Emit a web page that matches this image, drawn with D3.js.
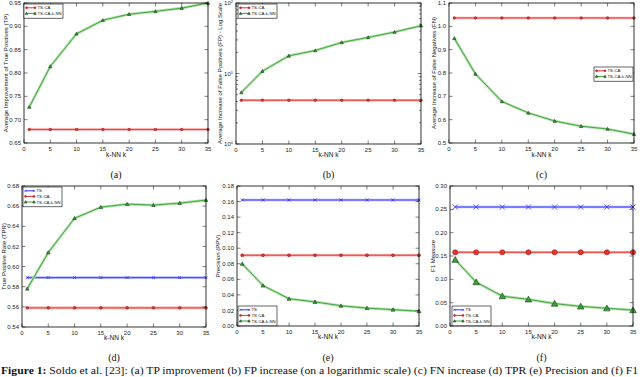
<!DOCTYPE html>
<html>
<head>
<meta charset="utf-8">
<script src="https://cdn.jsdelivr.net/npm/d3@7"></script>
<style>
  body { margin: 0; background: #fff; }
  svg { display: block; font-family: "Liberation Sans", Arial, sans-serif; }
  .cap { font-family: "Liberation Serif", "DejaVu Serif", serif; }
</style>
</head>
<body>
<div class="container"></div>
<script>
// k values used on every x axis
var kValues = [1, 5, 10, 15, 20, 25, 30, 35];
var xTicks = [0, 5, 10, 15, 20, 25, 30, 35];

// (a) TP improvement
var tpTsCa = [0.679, 0.679, 0.679, 0.679, 0.679, 0.679, 0.679, 0.679];
var tpKnn = [0.727, 0.814, 0.884, 0.913, 0.926, 0.932, 0.939, 0.950];
var tpTicks = [0.65, 0.70, 0.75, 0.80, 0.85, 0.90, 0.95];

// (b) FP increase, log scale
var fpTsCa = [4.18, 4.18, 4.18, 4.18, 4.18, 4.18, 4.18, 4.18];
var fpKnn = [5.37, 10.8, 17.8, 21.2, 27.6, 32.5, 38.7, 47.6];
var fpTicks = [1, 10, 100];

// (c) FN increase
var fnTsCa = [1.036, 1.036, 1.036, 1.036, 1.036, 1.036, 1.036, 1.036];
var fnKnn = [0.949, 0.796, 0.678, 0.629, 0.594, 0.572, 0.560, 0.538];
var fnTicks = [0.5, 0.6, 0.7, 0.8, 0.9, 1.0, 1.1];

// (d) TPR
var tprTs = [0.589, 0.589, 0.589, 0.589, 0.589, 0.589, 0.589, 0.589];
var tprTsCa = [0.559, 0.559, 0.559, 0.559, 0.559, 0.559, 0.559, 0.559];
var tprKnn = [0.578, 0.614, 0.648, 0.659, 0.662, 0.661, 0.663, 0.666];
var tprTicks = [0.54, 0.56, 0.58, 0.60, 0.62, 0.64, 0.66, 0.68];

// (e) Precision
var ppvTs = [0.162, 0.162, 0.162, 0.162, 0.162, 0.162, 0.162, 0.162];
var ppvTsCa = [0.091, 0.091, 0.091, 0.091, 0.091, 0.091, 0.091, 0.091];
var ppvKnn = [0.080, 0.052, 0.035, 0.031, 0.026, 0.023, 0.021, 0.019];
var ppvTicks = [0.00, 0.02, 0.04, 0.06, 0.08, 0.10, 0.12, 0.14, 0.16, 0.18];

// (f) F1
var f1Ts = [0.255, 0.255, 0.255, 0.255, 0.255, 0.255, 0.255, 0.255];
var f1TsCa = [0.158, 0.158, 0.158, 0.158, 0.158, 0.158, 0.158, 0.158];
var f1Knn = [0.142, 0.094, 0.064, 0.057, 0.048, 0.042, 0.038, 0.034];
var f1Ticks = [0.00, 0.05, 0.10, 0.15, 0.20, 0.25, 0.30];

var svgWidth = 640;
var svgHeight = 377;

var svg = d3.select(".container")
    .append("svg")
    .attr("width", svgWidth)
    .attr("height", svgHeight);

var styles = {
    "TS": { color: "#3333ff", halo: "#b4b8ff", marker: "x" },
    "TS-CA": { color: "#e8322f", halo: "#f8a8a8", marker: "o" },
    "TS-CA-k-NN": { color: "#38a038", halo: "#b0e0a8", marker: "^" }
};

var panels = [
    { box: [24, 3, 208, 143], domain: [0.65, 0.95], ticks: tpTicks, fmt: ".2f",
      ylabel: "Average Improvement of True Positives (TP)", ylabelX: 6,
      series: [["TS-CA", tpTsCa], ["TS-CA-k-NN", tpKnn]],
      legend: [24, 4], ms: 1.3, cap: "(a)", xlabelY: 157, capY: 178 },
    { box: [236, 3, 421, 144], domain: [1, 100], ticks: fpTicks, log: true,
      ylabel: "Average Increase of False Positives (FP) - Log Scale", ylabelX: 220,
      series: [["TS-CA", fpTsCa], ["TS-CA-k-NN", fpKnn]],
      legend: [238, 4], ms: 1.3, cap: "(b)", xlabelY: 157, capY: 178 },
    { box: [449, 3, 634, 143], domain: [0.5, 1.1], ticks: fnTicks, fmt: ".1f",
      ylabel: "Average Increase of False Negatives (FN)", ylabelX: 434,
      series: [["TS-CA", fnTsCa], ["TS-CA-k-NN", fnKnn]],
      legend: [594, 67], ms: 1.3, cap: "(c)", xlabelY: 157, capY: 178 },
    { box: [22, 186, 206, 327], domain: [0.54, 0.68], ticks: tprTicks, fmt: ".2f",
      ylabel: "True Positive Rate (TPR)", ylabelX: 4,
      series: [["TS", tprTs], ["TS-CA", tprTsCa], ["TS-CA-k-NN", tprKnn]],
      legend: [23, 187], ms: 1.4, cap: "(d)", xlabelY: 340, capY: 361 },
    { box: [237, 186, 419, 326], domain: [0, 0.18], ticks: ppvTicks, fmt: ".2f",
      ylabel: "Precision (PPV)", ylabelX: 218,
      series: [["TS", ppvTs], ["TS-CA", ppvTsCa], ["TS-CA-k-NN", ppvKnn]],
      legend: [238, 306], ms: 1.5, cap: "(e)", xlabelY: 339, capY: 361 },
    { box: [450, 186, 633, 326], domain: [0, 0.30], ticks: f1Ticks, fmt: ".2f",
      ylabel: "F1 Measure", ylabelX: 433,
      series: [["TS", f1Ts], ["TS-CA", f1TsCa], ["TS-CA-k-NN", f1Knn]],
      legend: [452, 306], ms: 2.6, cap: "(f)", xlabelY: 339, capY: 361 }
];

function drawMarker(g, type, x, y, s, st) {
    if (type === "o") {
        g.append("circle").attr("cx", x).attr("cy", y).attr("r", s)
            .attr("fill", st.color).attr("stroke", "#8a1010").attr("stroke-width", 0.5);
    } else if (type === "^") {
        var h = s * 1.25;
        g.append("path")
            .attr("d", `M${x},${y - h}L${x + h},${y + h * 0.8}L${x - h},${y + h * 0.8}Z`)
            .attr("fill", st.color).attr("stroke", "#1a3a1a").attr("stroke-width", 0.6);
    } else {
        g.append("path")
            .attr("d", `M${x - s},${y - s}L${x + s},${y + s}M${x - s},${y + s}L${x + s},${y - s}`)
            .attr("stroke", st.color).attr("stroke-width", 0.8).attr("fill", "none");
    }
}

panels.forEach(function(p) {
    var x0 = p.box[0], y0 = p.box[1], x1 = p.box[2], y1 = p.box[3];
    var g = svg.append("g");

    var xScale = d3.scaleLinear().domain([0, 35]).range([x0, x1]);
    var yScale = (p.log ? d3.scaleLog() : d3.scaleLinear()).domain(p.domain).range([y1, y0]);

    // lines + markers
    var line = d3.line().x((d, i) => xScale(kValues[i])).y(d => yScale(d));
    p.series.forEach(function(s) {
        var st = styles[s[0]];
        g.append("path").datum(s[1]).attr("d", line)
            .attr("fill", "none").attr("stroke", st.halo).attr("stroke-width", 2.6);
        g.append("path").datum(s[1]).attr("d", line)
            .attr("fill", "none").attr("stroke", st.color).attr("stroke-width", 0.9);
        s[1].forEach(function(v, i) {
            drawMarker(g, st.marker, xScale(kValues[i]), yScale(v), p.ms, st);
        });
    });

    // ticks on all four sides, pointing in
    xTicks.forEach(function(t) {
        var x = xScale(t);
        g.append("line").attr("x1", x).attr("x2", x).attr("y1", y1).attr("y2", y1 - 3.5)
            .attr("stroke", "#000").attr("stroke-width", 0.5);
        g.append("line").attr("x1", x).attr("x2", x).attr("y1", y0).attr("y2", y0 + 3.5)
            .attr("stroke", "#000").attr("stroke-width", 0.5);
        g.append("text").attr("x", x).attr("y", y1 + 8).attr("text-anchor", "middle")
            .attr("font-size", 6).attr("fill", "#222").text(t);
    });

    if (p.log) {
        // minor ticks for the log axis
        var minors = [];
        [1, 10].forEach(function(dec) {
            for (var m = 2; m <= 9; m++) minors.push(dec * m);
        });
        minors.forEach(function(t) {
            var y = yScale(t);
            g.append("line").attr("x1", x0).attr("x2", x0 + 2).attr("y1", y).attr("y2", y)
                .attr("stroke", "#000").attr("stroke-width", 0.5);
            g.append("line").attr("x1", x1).attr("x2", x1 - 2).attr("y1", y).attr("y2", y)
                .attr("stroke", "#000").attr("stroke-width", 0.5);
        });
    }
    p.ticks.forEach(function(t, i) {
        var y = yScale(t);
        g.append("line").attr("x1", x0).attr("x2", x0 + 3.5).attr("y1", y).attr("y2", y)
            .attr("stroke", "#000").attr("stroke-width", 0.5);
        g.append("line").attr("x1", x1).attr("x2", x1 - 3.5).attr("y1", y).attr("y2", y)
            .attr("stroke", "#000").attr("stroke-width", 0.5);
        var lab = g.append("text").attr("x", x0 - 3).attr("y", y).attr("dy", "0.35em")
            .attr("text-anchor", "end").attr("font-size", 6).attr("fill", "#222");
        if (p.log) {
            lab.append("tspan").text("10");
            lab.append("tspan").attr("dy", "-0.45em").attr("font-size", 4).text(i);
        } else {
            lab.text(d3.format(p.fmt)(t));
        }
    });

    // frame
    g.append("rect").attr("x", x0).attr("y", y0).attr("width", x1 - x0).attr("height", y1 - y0)
        .attr("fill", "none").attr("stroke", "#000").attr("stroke-width", 0.8);

    // axis labels
    g.append("text").attr("x", (x0 + x1) / 2).attr("y", p.xlabelY).attr("text-anchor", "middle")
        .attr("font-size", 6.5).attr("fill", "#111").text("k-NN k");
    g.append("text")
        .attr("transform", `translate(${p.ylabelX + 2},${(y0 + y1) / 2}) rotate(-90)`)
        .attr("text-anchor", "middle").attr("font-size", 6).attr("fill", "#111").text(p.ylabel);

    // legend
    var lx = p.legend[0], ly = p.legend[1];
    var rowH = 5.6;
    var lg = g.append("g");
    lg.append("rect").attr("x", lx).attr("y", ly).attr("width", 39)
        .attr("height", p.series.length * rowH + 3)
        .attr("fill", "#fff").attr("stroke", "#000").attr("stroke-width", 0.6);
    p.series.forEach(function(s, i) {
        var st = styles[s[0]];
        var cy = ly + 3.8 + i * rowH;
        lg.append("line").attr("x1", lx + 2.5).attr("x2", lx + 11).attr("y1", cy).attr("y2", cy)
            .attr("stroke", st.color).attr("stroke-width", 1);
        drawMarker(lg, st.marker, lx + 2.5, cy, 1, st);
        drawMarker(lg, st.marker, lx + 11, cy, 1, st);
        lg.append("text").attr("x", lx + 13.5).attr("y", cy).attr("dy", "0.35em")
            .attr("font-size", 4.3).attr("fill", "#111").text(s[0]);
    });

    // sub caption
    svg.append("text").attr("class", "cap").attr("x", (x0 + x1) / 2).attr("y", p.capY)
        .attr("text-anchor", "middle").attr("font-size", 10).attr("fill", "#111").text(p.cap);
});

// figure caption along the bottom edge
var fc = svg.append("text").attr("class", "cap").attr("x", 1).attr("y", 374)
    .attr("font-size", 10).attr("fill", "#111")
    .attr("textLength", 637).attr("lengthAdjust", "spacingAndGlyphs");
fc.append("tspan").attr("font-weight", "bold").text("Figure 1: ");
fc.append("tspan").text("Soldo et al. [23]: (a) TP improvement (b) FP increase (on a logarithmic scale) (c) FN increase (d) TPR (e) Precision and (f) F1");
</script>
</body>
</html>
